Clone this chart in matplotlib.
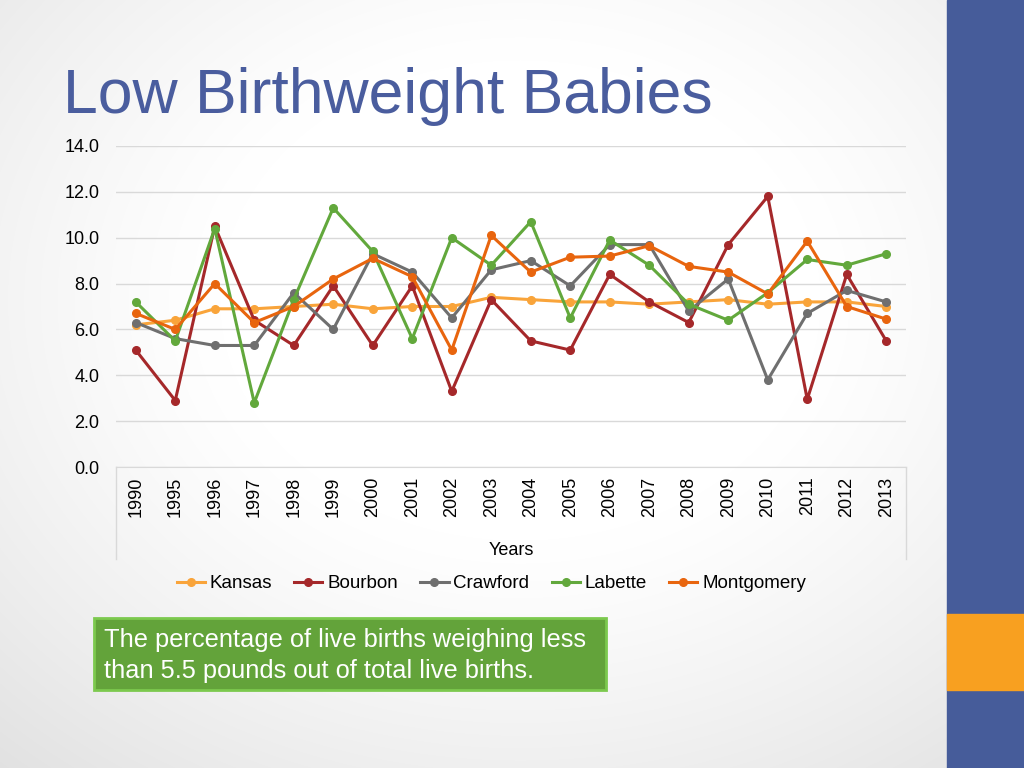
import numpy as np
import matplotlib
matplotlib.use("Agg")
import matplotlib.pyplot as plt
from matplotlib.patches import Rectangle
from matplotlib.lines import Line2D

years = ["1990", "1995", "1996", "1997", "1998", "1999", "2000", "2001", "2002", "2003",
         "2004", "2005", "2006", "2007", "2008", "2009", "2010", "2011", "2012", "2013"]
kansas = [6.2, 6.4, 6.9, 6.9, 7.0, 7.1, 6.9, 7.0, 7.0, 7.4,
          7.3, 7.2, 7.2, 7.1, 7.2, 7.3, 7.1, 7.2, 7.2, 7.0]
bourbon = [5.1, 2.9, 10.5, 6.4, 5.3, 7.9, 5.3, 7.9, 3.3, 7.3,
           5.5, 5.1, 8.4, 7.2, 6.3, 9.7, 11.8, 2.95, 8.4, 5.5]
crawford = [6.3, 5.6, 5.3, 5.3, 7.6, 6.0, 9.3, 8.5, 6.5, 8.6,
            9.0, 7.9, 9.7, 9.7, 6.8, 8.2, 3.8, 6.7, 7.7, 7.2]
labette = [7.2, 5.5, 10.4, 2.8, 7.3, 11.3, 9.4, 5.6, 10.0, 8.8,
           10.7, 6.5, 9.9, 8.8, 7.1, 6.4, 7.6, 9.05, 8.8, 9.3]
montgomery = [6.7, 6.0, 8.0, 6.3, 7.0, 8.2, 9.1, 8.3, 5.1, 10.1,
              8.5, 9.15, 9.2, 9.65, 8.75, 8.5, 7.55, 9.85, 7.0, 6.45]

series = [("Kansas", kansas, "#F9A43A"),
          ("Bourbon", bourbon, "#A5282A"),
          ("Crawford", crawford, "#6F6F6F"),
          ("Labette", labette, "#62A83C"),
          ("Montgomery", montgomery, "#E8650E")]

plt.rcParams['font.family'] = ['Liberation Sans', 'DejaVu Sans']

fig = plt.figure(figsize=(10.24, 7.68), dpi=100)

# slide background: soft grey vignette
bg = fig.add_axes([0, 0, 1, 1], zorder=-10)
yy, xx = np.mgrid[0:768, 0:1024]
r = np.sqrt(((xx - 520) / 600.0) ** 2 + ((yy - 300) / 480.0) ** 2)
shade = 1.0 - 0.15 * np.clip(r - 0.5, 0, 1) ** 1.2
bg.imshow(np.dstack([shade, shade, shade]), aspect='auto', extent=[0, 1024, 768, 0])
bg.set_xlim(0, 1024)
bg.set_ylim(768, 0)
bg.axis('off')
# right side bars
bg.add_patch(Rectangle((947, 0), 77, 768, color="#465C9A"))
bg.add_patch(Rectangle((947, 614), 77, 76, color="#F8A020"))
# green note box
bg.add_patch(Rectangle((94, 618), 512, 72, facecolor="#63A33A", edgecolor="#7CC94E", lw=2))
bg.text(104, 640, "The percentage of live births weighing less", color="white",
        fontsize=18.3, va="center", ha="left")
bg.text(104, 671, "than 5.5 pounds out of total live births.", color="white",
        fontsize=18.3, va="center", ha="left")
bg.text(63, 97, "Low Birthweight Babies", color="#4A5D9E", fontsize=45,
        va="center", ha="left")

ax = fig.add_axes([116 / 1024, 1 - 467 / 768, 790 / 1024, 321 / 768])
ax.patch.set_alpha(0)
x = np.arange(len(years))
for name, vals, col in series:
    ax.plot(x, vals, color=col, lw=2.2, marker='o', markersize=5.5, label=name)

ax.set_xlim(-0.5, len(years) - 0.5)
ax.set_ylim(0, 14)
ax.set_yticks(np.arange(0, 14.1, 2))
ax.set_yticklabels([f"{v:.1f}" for v in np.arange(0, 14.1, 2)], fontsize=13)
ax.set_xticks(x)
ax.set_xticklabels(years, rotation=90, fontsize=13)
ax.tick_params(length=0, pad=7)
ax.tick_params(axis='y', pad=12)
ax.grid(axis='y', color="#D9D9D9", lw=1)
ax.set_axisbelow(True)
for s in ['top', 'right', 'left']:
    ax.spines[s].set_visible(False)
ax.spines['bottom'].set_color("#D9D9D9")
ax.set_xlabel("Years", fontsize=13, labelpad=18)

# category axis frame lines
for xp in (116, 906):
    bg.add_line(Line2D([xp, xp], [467, 559], color="#D9D9D9", lw=1))

leg = ax.legend(loc='upper center', bbox_to_anchor=(0.475, -0.285), ncol=5, frameon=False,
                fontsize=13.5, handlelength=1.5, handletextpad=0.25, columnspacing=1.2)

fig.savefig("out.png", dpi=100)
